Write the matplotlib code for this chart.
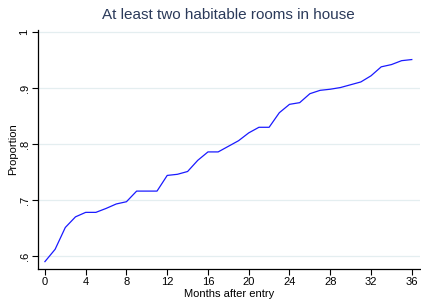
import numpy as np
import matplotlib.pyplot as plt

plt.rcParams['font.family'] = ['Liberation Sans', 'DejaVu Sans']

# months after entry and proportion
months = np.arange(0, 37)
proportion = [0.590, 0.612, 0.651, 0.670, 0.678, 0.678, 0.685, 0.693, 0.697,
              0.716, 0.716, 0.716, 0.744, 0.746, 0.751, 0.771, 0.786, 0.786,
              0.796, 0.806, 0.820, 0.830, 0.830, 0.856, 0.871, 0.874, 0.890,
              0.896, 0.898, 0.901, 0.906, 0.911, 0.922, 0.938, 0.942, 0.949,
              0.951]
xticks = np.arange(0, 37, 4)
yticks = [0.6, 0.7, 0.8, 0.9, 1.0]
ylabels = ['.6', '.7', '.8', '.9', '1']

fig = plt.figure(figsize=(4.21, 3.05), dpi=100)
ax = fig.add_axes([0.090, 0.118, 0.907, 0.784])

ax.plot(months, proportion, color='#1a1aff', lw=0.9)

ax.set_xlim(-0.69, 36.78)
ax.set_ylim(0.5768, 1.004)
ax.set_xticks(xticks)
ax.set_yticks(yticks)
ax.set_yticklabels(ylabels, rotation=90, va='center')
ax.tick_params(labelsize=8, length=4, width=0.8, color='black', pad=2)
ax.grid(axis='y', color='#e4eef0', lw=0.9)
ax.set_axisbelow(True)
for s in ['top', 'right']:
    ax.spines[s].set_visible(False)
for s in ['left', 'bottom']:
    ax.spines[s].set_linewidth(0.9)

ax.set_xlabel('Months after entry', fontsize=8, labelpad=1)
ax.set_ylabel('Proportion', fontsize=8, labelpad=1)
ax.set_title('At least two habitable rooms in house', fontsize=11,
             color='#2b3a5a', pad=8)

fig.savefig('out.png', dpi=100)
